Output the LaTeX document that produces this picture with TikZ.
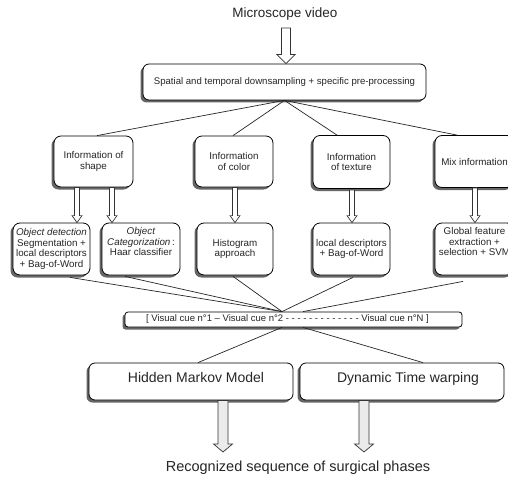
\documentclass[tikz,border=0pt]{standalone}
\usepackage{fontspec}
\setmainfont{Liberation Sans}
\usetikzlibrary{calc,shadows}

% hollow block arrow: start point, tip point, shaft half width, head half width, head length, fill
\newcommand\blockarrow[6]{%
  \draw[blockline, fill=#6] let \p1=#1, \p2=#2 in
    (\x1-#3,\y1) -- (\x1+#3,\y1) -- (\x1+#3,\y2+#5) -- (\x1+#4,\y2+#5) --
    (\x1,\y2) -- (\x1-#4,\y2+#5) -- (\x1-#3,\y2+#5) -- cycle;}

\tikzset{
  box/.style={draw=black, line width=0.8pt, fill=white, rounded corners=#1,
    drop shadow={shadow xshift=-2.5pt, shadow yshift=-2.5pt, opacity=1, fill=black!60},
    inner sep=0pt, align=center, text=black!85,
    font=\fontsize{9.8}{10.7}\selectfont},
  box/.default=7pt,
  link/.style={draw=black!85, line width=0.7pt},
  blockline/.style={draw=black!80, line width=0.7pt, line join=miter},
  bigtext/.style={inner sep=0pt, anchor=base, text=black!85},
}

\begin{document}
\begin{tikzpicture}[x=1pt, y=-1pt]
  \clip (0,0) rectangle (508,476);
  \fill[white] (0,0) rectangle (508,476);

  % input and pre-processing
  \node[bigtext, font=\fontsize{13.5}{16}\selectfont] (video) at (285,17.5) {Microscope video};
  \coordinate (videoarrow) at (286,28);
  \node[box=6pt, minimum width=283pt, minimum height=36pt, font=\fontsize{9.6}{11}\selectfont] (pre) at (284.5,82)
    {Spatial and temporal downsampling + specific pre-processing};

  % families of information
  \node[box, minimum width=79pt, minimum height=51pt] (shape) at (93.5,161.5) {Information of\\shape};
  \node[box, minimum width=78pt, minimum height=51pt] (color) at (234,161.5) {Information\\of color};
  \node[box, minimum width=77pt, minimum height=53pt] (texture) at (351.5,162) {Information\\of texture};
  \node[box, minimum width=79pt, minimum height=52pt] (mix) at (474.5,161.5) {Mix information};

  % extraction methods
  \node[box, minimum width=77pt, minimum height=52pt] (detect) at (51.5,249)
    {\textit{Object detection}\\Segmentation +\\local descriptors\\+ Bag-of-Word};
  \node[box, minimum width=78pt, minimum height=52pt] (categ) at (141,249)
    {\textit{Object}\\\textit{Categorization}\,:\\Haar classifier\\[4pt]};
  \node[box, minimum width=76pt, minimum height=52pt] (hist) at (235,249) {Histogram\\approach};
  \node[box, minimum width=77pt, minimum height=52pt] (local) at (351.5,249)
    {local descriptors\\+ Bag-of-Word};
  \node[box, minimum width=79pt, minimum height=52pt] (global) at (474.5,249)
    {Global feature\\extraction +\\selection + SVM\\[4pt]};

  % visual cues vector
  \node[box=3pt, minimum width=337pt, minimum height=15pt] (cue) at (293.5,319.5) {};
  \node[inner sep=0pt, text=black!85, font=\fontsize{9.5}{11}\selectfont] (cuetext) at (287.5,319.5)
    {[ Visual cue n°1 -- Visual cue n°2 - - - - - - - - - - - - - Visual cue n°N ]};

  % classifiers
  \node[box=6pt, minimum width=204pt, minimum height=37pt] (hmm) at (191,381.5) {};
  \node[box=6pt, minimum width=204pt, minimum height=37pt] (dtw) at (402,381.5) {};
  \node[bigtext, font=\fontsize{14}{17}\selectfont] (hmmtext) at (196,382) {Hidden Markov Model};
  \node[bigtext, font=\fontsize{14}{17}\selectfont] (dtwtext) at (408,382) {Dynamic Time warping};

  % output
  \node[bigtext, font=\fontsize{14.5}{17}\selectfont] (result) at (298,471)
    {Recognized sequence of surgical phases};
  \coordinate (resulttop) at (298,452);

  % connectors from pre-processing to the information families
  \draw[link] (pre.south) -- ($(shape.north)+(3.5,0)$);
  \draw[link] (pre.south) -- ($(color.north)+(-1,0)$);
  \draw[link] (pre.south) -- ($(texture.north)+(-14.5,0)$);
  \draw[link] (pre.south) -- ($(mix.north)+(-17.5,0)$);

  % connectors from the methods to the visual cues
  \draw[link] ($(detect.south)+(18.5,2)$) -- ($(cue.north)+(-11.5,0)$);
  \draw[link] ($(categ.south)+(-16,1)$) -- ($(cue.north)+(-11.5,0)$);
  \draw[link] ($(hist.south)+(-2,1)$) -- ($(cue.north)+(-11.5,0)$);
  \draw[link] ($(local.south)+(1.5,2)$) -- ($(cue.north)+(-11.5,0)$);
  \draw[link] ($(global.south)+(-11.5,6)$) -- ($(cue.north)+(9.5,0)$);

  % connectors from the visual cues to the classifiers
  \draw[link] ($(cue.south)+(-11.5,0)$) -- ($(hmm.north)+(7,0)$);
  \draw[link] ($(cue.south)+(9.5,0)$) -- ($(dtw.north)+(21,0)$);

  % block arrows
  \blockarrow{(videoarrow)}{(pre.north)}{4.5pt}{9pt}{9pt}{white}
  \blockarrow{($(shape.south)+(-16.5,0)$)}{(detect.north)}{2.5pt}{5pt}{7pt}{white}
  \blockarrow{($(shape.south)+(18.5,0)$)}{(categ.north)}{2.5pt}{5pt}{7pt}{white}
  \blockarrow{($(color.south)+(1,0)$)}{(hist.north)}{2.5pt}{5pt}{7pt}{white}
  \blockarrow{($(texture.south)+(0.5,1)$)}{(local.north)}{2.5pt}{5pt}{7pt}{white}
  \blockarrow{($(mix.south)+(0.5,0)$)}{(global.north)}{2.5pt}{5pt}{7pt}{white}
  \blockarrow{($(hmm.south)+(32,0)$)}{(resulttop)}{5pt}{9.5pt}{8pt}{black!8}
  \blockarrow{($(dtw.south)+(-38,0)$)}{(resulttop)}{5pt}{9.5pt}{8pt}{black!8}
\end{tikzpicture}
\end{document}
